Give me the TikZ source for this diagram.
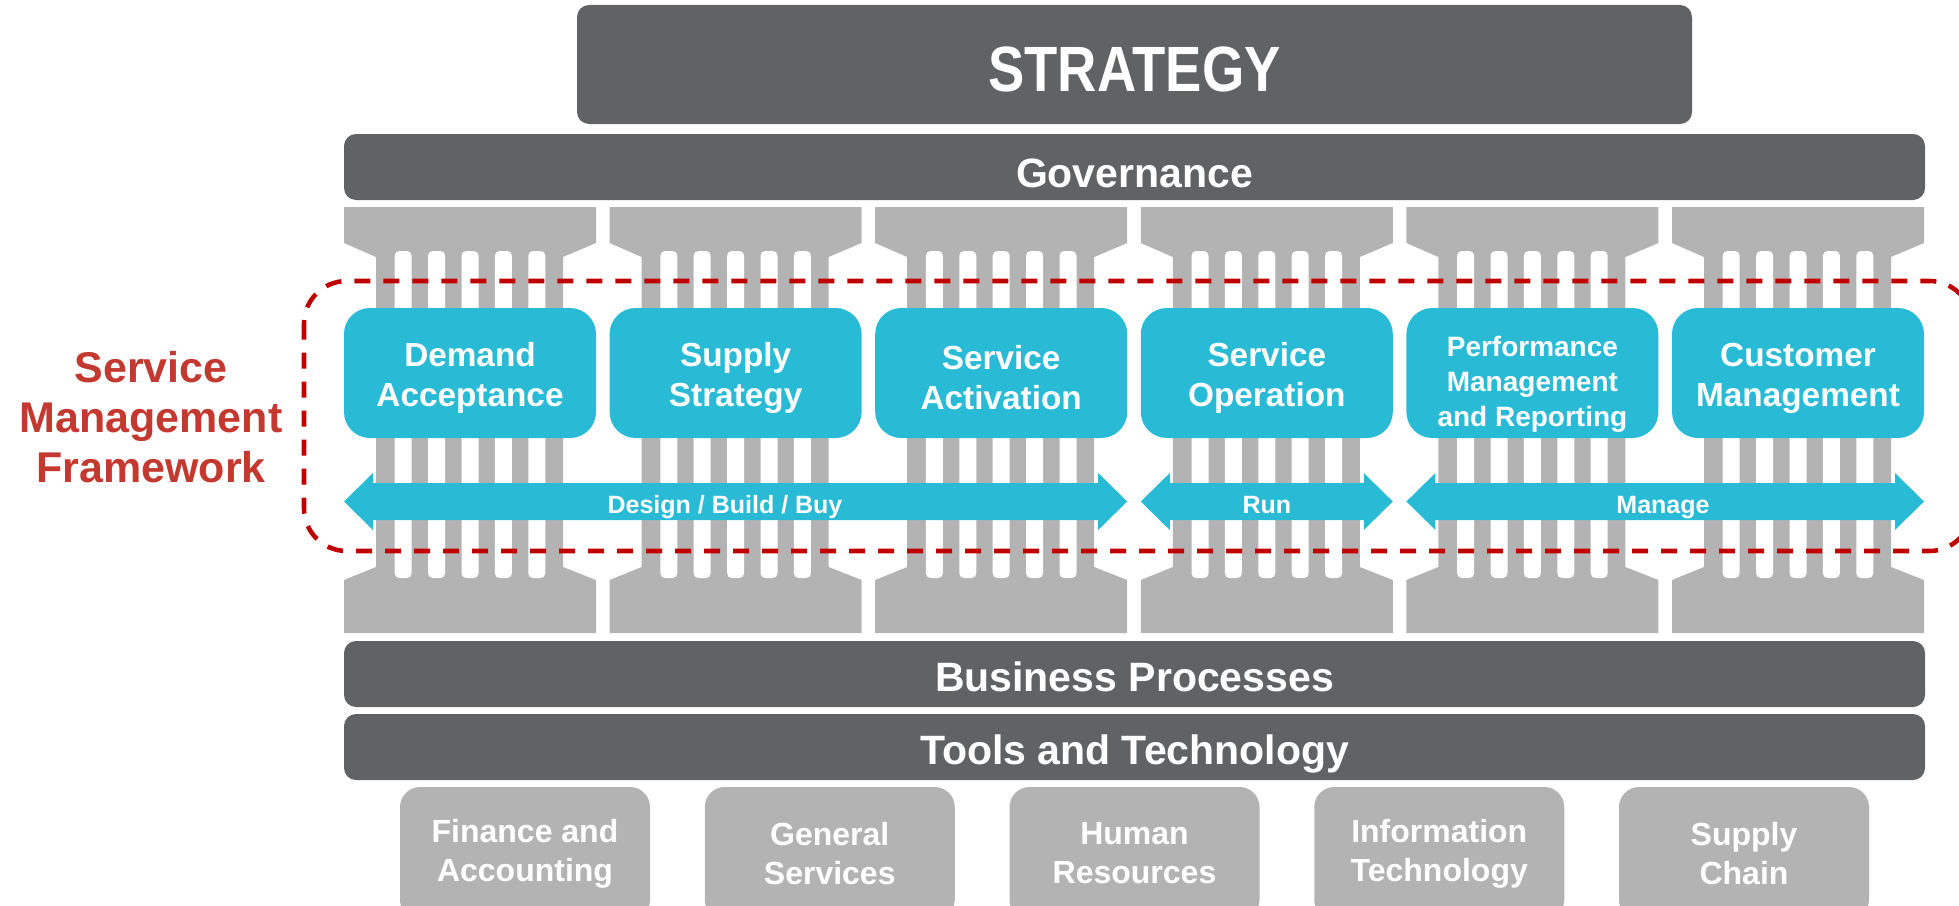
\documentclass[tikz,border=0pt]{standalone}
\usepackage{fontspec}
\setmainfont{Liberation Sans}
\definecolor{darkbar}{RGB}{97,98,100}
\definecolor{pillargray}{RGB}{179,179,179}
\definecolor{smcyan}{RGB}{41,187,214}
\definecolor{dashred}{RGB}{192,0,0}
\definecolor{textred}{RGB}{195,57,48}
\newcommand\flowarrow[2]{\fill[smcyan] (#1,501.5) -- (#1+29,473) -- (#1+29,483) -- (#2-29,483) -- (#2-29,473) -- (#2,501.5) -- (#2-29,530) -- (#2-29,520) -- (#1+29,520) -- (#1+29,530) -- cycle;}
\begin{document}
\begin{tikzpicture}[x=0.75pt,y=-0.75pt,
  layerbar/.style={rectangle, fill=darkbar, rounded corners=9pt, text=white,
    font=\fontsize{30.75}{36}\selectfont\bfseries, inner sep=0pt,
    minimum height=49.5pt, minimum width=1185.75pt, text height=30pt, text depth=0pt},
  stagebox/.style={rectangle, fill=smcyan, rounded corners=19.5pt, inner sep=0pt,
    minimum width=189pt, minimum height=97.5pt},
  stagetext/.style={text=white, align=center, inner sep=0pt, font=\fontsize{25}{30}\selectfont\bfseries},
  unitbox/.style={rectangle, fill=pillargray, rounded corners=15pt, text=white, align=center,
    inner sep=0pt, minimum width=187.5pt, minimum height=99.75pt, font=\fontsize{24}{29.25}\selectfont\bfseries},
  arrowlabel/.style={text=white, font=\fontsize{18.75}{22}\selectfont\bfseries, anchor=base, inner sep=0pt},
  dashframe/.style={draw=dashred, line width=3.4pt, dash pattern=on 12pt off 9.75pt, rounded corners=32pt},
]
\useasboundingbox (0,0) rectangle (1959,906);
\clip (0,0) rectangle (1959,906);

% strategy and governance
\node[layerbar, minimum width=836.25pt, minimum height=89.25pt,
  font=\fontsize{48}{56}\selectfont\bfseries, text height=41.25pt] (strategy) at (1134.5,64.5) {\scalebox{0.85}[1]{STRATEGY}};
\node[layerbar] (governance) at (1134.5,167) {Governance};

% pillars
\foreach \i in {0,...,5}{
  \pgfmathsetmacro\xo{344+265.6*\i}
  \fill[pillargray] (\xo,207) -- ++(252,0) -- ++(0,36) -- ++(-33,14) -- ++(0,310) -- ++(33,13) -- ++(0,53)
     -- ++(-252,0) -- ++(0,-53) -- ++(32,-13) -- ++(0,-310) -- ++(-32,-14) -- cycle;
  \foreach \k in {-2,...,2}
    \fill[white, rounded corners=3.5pt] (\xo+126+33.4*\k-8.5,251) rectangle ++(17,327);
}

% stage boxes
\node[stagebox] (demand) at (470,373) {};
\node[stagebox] (supply) at (735.6,373) {};
\node[stagebox] (activation) at (1001.2,373) {};
\node[stagebox] (operation) at (1266.8,373) {};
\node[stagebox] (performance) at (1532.4,373) {};
\node[stagebox] (customer) at (1798,373) {};
\node[stagetext] (demandtext) at (470,378) {Demand\\Acceptance};
\node[stagetext] (supplytext) at (735.6,378) {Supply\\Strategy};
\node[stagetext] (activationtext) at (1001.2,378) {Service\\Activation};
\node[stagetext] (operationtext) at (1266.8,378) {Service\\Operation};
\node[stagetext, font=\fontsize{21}{26.25}\selectfont\bfseries]
  (performancetext) at (1532.4,384) {Performance\\Management\\and Reporting};
\node[stagetext] (customertext) at (1798,378) {Customer\\Management};

% flow arrows
\flowarrow{344}{1127.2}
\flowarrow{1140.8}{1392.8}
\flowarrow{1406.4}{1924}
\node[arrowlabel] (design) at (725,513) {Design / Build / Buy};
\node[arrowlabel] (run) at (1266.8,513) {Run};
\node[arrowlabel] (manage) at (1663,513) {Manage};

% framework frame
\draw[dashframe] (304,281) rectangle (1972,551);
\node[text=textred, align=center, inner sep=0pt, font=\fontsize{32.25}{37.5}\selectfont\bfseries]
  (smf) at (151,417.5) {Service\\Management\\Framework};

% lower layers
\node[layerbar, text height=26.25pt] (business) at (1134.5,674) {Business Processes};
\node[layerbar, text height=26.25pt] (tools) at (1134.5,747) {Tools and Technology};

% business units
\node[unitbox] (finance) at (525,853.5) {Finance and\\Accounting};
\node[unitbox] (general) at (829.75,853.5) {General\\Services};
\node[unitbox] (hr) at (1134.5,853.5) {Human\\Resources};
\node[unitbox] (it) at (1439.25,853.5) {Information\\Technology};
\node[unitbox] (supplychain) at (1744,853.5) {Supply\\Chain};
\end{tikzpicture}
\end{document}
